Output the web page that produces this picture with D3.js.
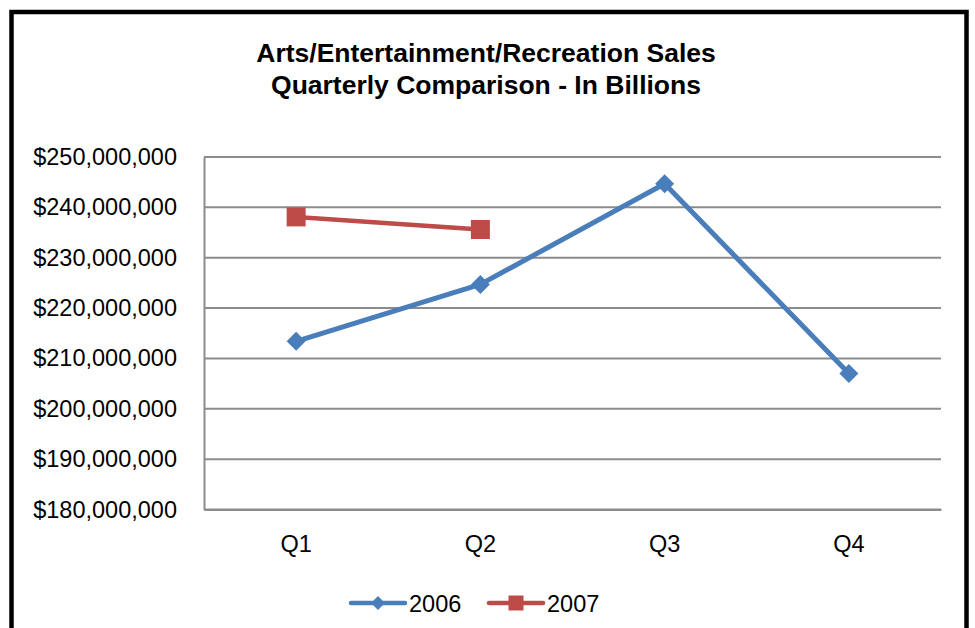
<!DOCTYPE html>
<html>
<head>
<meta charset="utf-8">
<script src="https://cdn.jsdelivr.net/npm/d3@7"></script>
<style>
  html, body { margin: 0; padding: 0; background: #fff; }
  svg { display: block; font-family: "Liberation Sans", Arial, sans-serif; }
</style>
</head>
<body>
<svg id="chart" width="975" height="628"></svg>
<script>
// Quarterly sales data
const quarters = ["Q1", "Q2", "Q3", "Q4"];
const sales2006 = [213400000, 224700000, 244700000, 207000000];
const sales2007 = [238100000, 235600000];
const yTicks = [180000000, 190000000, 200000000, 210000000, 220000000, 230000000, 240000000, 250000000];
const titleLines = ["Arts/Entertainment/Recreation Sales", "Quarterly Comparison - In Billions"];
const seriesNames = ["2006", "2007"];

const svg = d3.select("#chart");
const plot = { left: 204, right: 941, top: 157, bottom: 509.5 };

// Outer chart frame
svg.append("rect")
  .attr("x", 11.5).attr("y", 12)
  .attr("width", 955).attr("height", 640)
  .attr("fill", "#fff").attr("stroke", "#000").attr("stroke-width", 4.5);

// Title
svg.append("g").selectAll("text").data(titleLines).join("text")
  .attr("x", 486).attr("y", (d, i) => 62 + i * 32)
  .attr("text-anchor", "middle")
  .attr("font-size", 26.5).attr("font-weight", "bold")
  .text(d => d);

const x = d3.scaleBand().domain(quarters).range([plot.left, plot.right]);
const y = d3.scaleLinear().domain([180000000, 250000000]).range([plot.bottom, plot.top]);

// Horizontal gridlines
svg.append("g").selectAll("line").data(yTicks).join("line")
  .attr("x1", plot.left).attr("x2", plot.right)
  .attr("y1", d => y(d)).attr("y2", d => y(d))
  .attr("stroke", "#8c8c8c").attr("stroke-width", 2);

// Y axis
const fmt = d => "$" + d3.format(",")(d);
const yAxis = svg.append("g")
  .attr("transform", `translate(${plot.left},0)`)
  .call(d3.axisLeft(y).tickValues(yTicks).tickFormat(fmt).tickSize(0).tickPadding(27));
yAxis.select(".domain").attr("stroke", "#8c8c8c").attr("stroke-width", 2);
yAxis.selectAll("text").attr("font-size", 23.5).attr("fill", "#000")
  .attr("font-family", "Liberation Sans, Arial, sans-serif");

// X axis
const xAxis = svg.append("g")
  .attr("transform", `translate(0,${plot.bottom})`)
  .call(d3.axisBottom(x).tickSize(0).tickPadding(26));
xAxis.select(".domain").attr("stroke", "#8c8c8c").attr("stroke-width", 2);
xAxis.selectAll("text").attr("font-size", 23.5).attr("fill", "#000")
  .attr("font-family", "Liberation Sans, Arial, sans-serif");

const cx = q => x(q) + x.bandwidth() / 2;
const line = d3.line().x(d => cx(d.q)).y(d => y(d.v));

const series = [
  { name: seriesNames[0], color: "#4A7EBB", width: 5, values: sales2006.map((v, i) => ({ q: quarters[i], v })), marker: "diamond" },
  { name: seriesNames[1], color: "#BE4B48", width: 4.5, values: sales2007.map((v, i) => ({ q: quarters[i], v })), marker: "square" }
];

const diamond = s => `M0,${-s} L${s},0 L0,${s} L${-s},0 Z`;
const square = s => `M${-s},${-s} H${s} V${s} H${-s} Z`;
const markerPath = (m, big) => m === "diamond" ? diamond(big ? 9.5 : 7) : square(big ? 9.5 : 7.5);

series.forEach(s => {
  const g = svg.append("g");
  g.append("path").datum(s.values)
    .attr("d", line).attr("fill", "none")
    .attr("stroke", s.color).attr("stroke-width", s.width)
    .attr("stroke-linejoin", "round");
  g.selectAll("path.m").data(s.values).join("path")
    .attr("class", "m")
    .attr("transform", d => `translate(${cx(d.q)},${y(d.v)})`)
    .attr("d", markerPath(s.marker, true))
    .attr("fill", s.color);
});

// Legend
const legend = svg.append("g");
const legendItems = [
  { s: series[0], x0: 351 },
  { s: series[1], x0: 489 }
];
legendItems.forEach(({ s, x0 }) => {
  const ly = 603;
  legend.append("line")
    .attr("x1", x0).attr("x2", x0 + 54).attr("y1", ly).attr("y2", ly)
    .attr("stroke", s.color).attr("stroke-width", 4.5).attr("stroke-linecap", "round");
  legend.append("path")
    .attr("transform", `translate(${x0 + 27},${ly})`)
    .attr("d", markerPath(s.marker, false))
    .attr("fill", s.color);
  legend.append("text")
    .attr("x", x0 + 58).attr("y", ly + 8.5)
    .attr("font-size", 23.5).text(s.name);
});
</script>
</body>
</html>
